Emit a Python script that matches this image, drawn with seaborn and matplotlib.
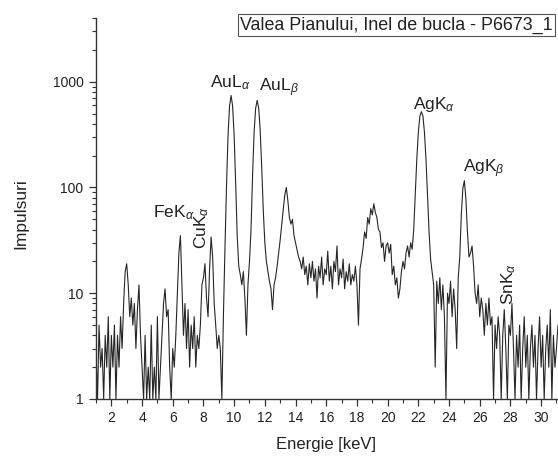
import numpy as np
import pandas as pd
import seaborn as sns
import matplotlib
matplotlib.use("Agg")
import matplotlib.pyplot as plt
from matplotlib.ticker import FixedLocator, LogLocator, NullFormatter, MultipleLocator, FixedFormatter

# ---- data (counts per 0.1 keV channel) ----
start_kev = 1.0
step_kev = 0.1
counts_1_10 = [
    3, 1, 5, 2, 3, 1, 4, 2, 6, 1,          # 1.0-1.9
    4, 2, 5, 1, 4, 2, 6, 3, 8, 16,         # 2.0-2.9
    19, 12, 6, 9, 5, 8, 3, 7, 12, 4,       # 3.0-3.9
    2, 1, 4, 1, 2, 1, 5, 1, 2, 1,          # 4.0-4.9
    6, 1, 2, 4, 8, 11, 6, 7, 2, 1,         # 5.0-5.9
    3, 2, 4, 10, 24, 35, 12, 4, 8, 3,      # 6.0-6.9
    7, 2, 5, 3, 6, 2, 4, 3, 5, 12,         # 7.0-7.9
    14, 19, 9, 6, 17, 34, 22, 8, 5, 3,     # 8.0-8.9
    4, 3, 1, 6, 26, 100, 305, 590, 740, 590,  # 9.0-9.9
]
counts_10_20 = [
    310, 110, 35, 18, 15, 12, 16, 9, 4, 12,      # 10.0-10.9
    20, 40, 130, 330, 560, 665, 560, 340, 150, 60,  # 11.0-11.9
    30, 20, 16, 13, 11, 7, 12, 14, 18, 24,       # 12.0-12.9
    32, 45, 62, 85, 100, 75, 52, 45, 50, 35,     # 13.0-13.9
    30, 26, 22, 20, 17, 22, 15, 18, 12, 19,      # 14.0-14.9
    14, 20, 13, 17, 9, 18, 14, 22, 12, 17,       # 15.0-15.9
    15, 25, 13, 18, 11, 20, 16, 28, 12, 17,      # 16.0-16.9
    14, 21, 11, 16, 13, 19, 12, 15, 13, 18,      # 17.0-17.9
    12, 5, 17, 21, 27, 38, 33, 52, 45, 63,       # 18.0-18.9
    55, 70, 58, 52, 40, 38, 27, 30, 20, 28,      # 19.0-19.9
]
counts_20_31 = [
    30, 24, 29, 15, 18, 12, 14, 9, 11, 16,       # 20.0-20.9
    20, 17, 24, 28, 22, 30, 26, 40, 85, 184,     # 21.0-21.9
    331, 474, 520, 474, 331, 184, 85, 38, 21, 16,  # 22.0-22.9
    12, 2, 13, 8, 14, 7, 12, 6, 1, 10,           # 23.0-23.9
    8, 13, 6, 11, 7, 3, 14, 22, 55, 98,          # 24.0-24.9
    116, 78, 38, 22, 24, 28, 18, 10, 8, 12,      # 25.0-25.9
    6, 9, 7, 4, 8, 5, 9, 5, 6, 1,                # 26.0-26.9
    5, 3, 6, 4, 1, 4, 7, 3, 1, 5,                # 27.0-27.9
    4, 8, 3, 1, 4, 2, 5, 1, 3, 6,                # 28.0-28.9
    2, 4, 1, 3, 5, 2, 4, 1, 3, 6,                # 29.0-29.9
    2, 4, 1, 3, 5, 2, 7, 1, 4, 2,                # 30.0-30.9
    3, 5,                                        # 31.0-31.1
]
x_ticks = [2, 4, 6, 8, 10, 12, 14, 16, 18, 20, 22, 24, 26, 28, 30]
y_ticks = [1, 10, 100, 1000]
y_tick_labels = ["1", "10", "100", "1000"]

peak_labels = [r"AuL$_{\alpha}$", r"AuL$_{\beta}$", r"AgK$_{\alpha}$", r"AgK$_{\beta}$", r"FeK$_{\alpha}$"]
peak_label_x = [8.42, 11.61, 21.64, 24.9, 4.72]
peak_label_y = [881, 807, 546, 138, 52]
rot_labels = [r"CuK$_{\alpha}$", r"SnK$_{\alpha}$"]
rot_label_x = [7.87, 27.9]
rot_label_y = [42, 12.3]

title = "Valea Pianului, Inel de bucla - P6673_1"

counts = counts_1_10 + counts_10_20 + counts_20_31
energy = np.round(start_kev + step_kev * np.arange(len(counts)), 2)
df = pd.DataFrame({"Energie": energy, "Impulsuri": counts})

# ---- style ----
sns.set_style("ticks")
plt.rcParams["font.family"] = ["Liberation Sans", "DejaVu Sans"]
plt.rcParams["mathtext.fontset"] = "custom"
plt.rcParams["mathtext.rm"] = "Liberation Sans"
plt.rcParams["mathtext.it"] = "Liberation Sans:italic"

fig = plt.figure(figsize=(5.58, 4.57), dpi=100)
W, H = 558, 457
ax = fig.add_axes([96 / W, 1 - 399 / H, 1 - 96 / W, (399 - 18) / H])

sns.lineplot(data=df, x="Energie", y="Impulsuri", ax=ax, color="#262626",
             linewidth=0.8, estimator=None, legend=False)

ax.set_yscale("log")
ax.set_ylim(1, 4000)
ax.set_xlim(1, 31.1)

ax.yaxis.set_major_locator(FixedLocator(y_ticks))
ax.yaxis.set_major_formatter(FixedFormatter(y_tick_labels))
ax.yaxis.set_minor_locator(LogLocator(base=10, subs=range(2, 10)))
ax.yaxis.set_minor_formatter(NullFormatter())
ax.xaxis.set_major_locator(FixedLocator(x_ticks))
ax.xaxis.set_minor_locator(MultipleLocator(1))

for s in ["top", "right"]:
    ax.spines[s].set_visible(False)
for s in ["left", "bottom"]:
    ax.spines[s].set_color("#333333")
    ax.spines[s].set_linewidth(1.0)

ax.tick_params(which="major", direction="out", length=5, width=0.9, colors="#333333",
               labelsize=10, pad=4, labelcolor="#222222")
ax.tick_params(which="minor", direction="out", length=3, width=0.8, colors="#333333")

ax.set_xlabel("Energie [keV]", fontsize=12, color="#222222")
ax.set_ylabel("Impulsuri", fontsize=12.5, color="#222222")
ax.xaxis.set_label_coords(0.498, -0.1)
ax.yaxis.set_label_coords(-0.147, 0.487)

for t, x, y in zip(peak_labels, peak_label_x, peak_label_y):
    ax.text(x, y, t, fontsize=12.5, ha="left", va="baseline", color="#222222")
for t, x, y in zip(rot_labels, rot_label_x, rot_label_y):
    ax.text(x, y, t, fontsize=12.5, ha="center", va="center", rotation=90, color="#222222")

fig.text(396.5 / W, 1 - 25 / H, title, fontsize=12.9, ha="center", va="center", color="#222222",
         bbox=dict(boxstyle="square,pad=0.12", fc="white", ec="#555555", lw=0.8))

fig.savefig("out.png", dpi=100)
